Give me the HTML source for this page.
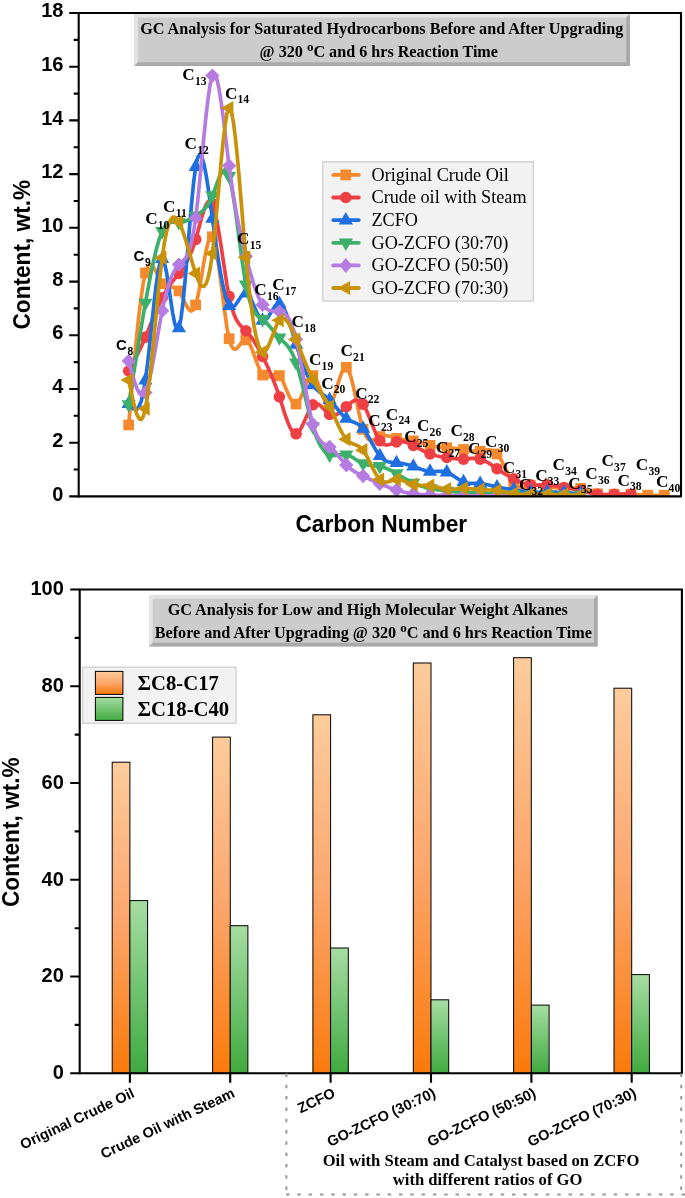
<!DOCTYPE html>
<html lang="en"><head><meta charset="utf-8"><title>GC Analysis</title>
<style>html,body{margin:0;padding:0;background:#fff}svg{display:block;will-change:transform}</style></head>
<body>
<svg width="685" height="1198" viewBox="0 0 685 1198">
<defs>
<clipPath id="cp1"><rect x="78.7" y="13.0" width="602.3" height="483.9"/></clipPath>
<linearGradient id="go" x1="0" y1="0" x2="0" y2="1"><stop offset="0" stop-color="#FDCC9C"/><stop offset="0.5" stop-color="#FCA66C"/><stop offset="1" stop-color="#FA7A0A"/></linearGradient>
<linearGradient id="gg" x1="0" y1="0" x2="0" y2="1"><stop offset="0" stop-color="#A6DDA2"/><stop offset="1" stop-color="#3FAA3F"/></linearGradient>
</defs>
<rect width="685" height="1198" fill="#fff"/>
<g clip-path="url(#cp1)">
<path d="M128.7 425.0L130.8 400.5L132.9 376.5L135.0 353.6L137.1 332.2L139.2 312.9L141.3 296.3L143.3 282.8L145.4 273.0L147.5 267.1L149.6 264.7L151.7 265.1L153.8 267.6L155.9 271.4L158.0 275.8L160.1 280.1L162.2 283.7L164.3 285.9L166.4 287.1L168.5 287.4L170.5 287.4L172.6 287.4L174.7 287.7L176.8 288.8L178.9 291.0L181.0 294.5L183.1 298.8L185.2 303.3L187.3 307.2L189.4 310.1L191.5 311.1L193.6 309.6L195.7 304.9L197.8 296.8L199.8 286.1L201.9 274.0L204.0 261.8L206.1 250.8L208.2 242.1L210.3 237.0L212.4 236.7L214.5 242.1L216.6 252.2L218.7 265.7L220.8 281.4L222.9 297.8L225.0 313.8L227.0 327.8L229.1 338.8L231.2 345.6L233.3 348.8L235.4 349.2L237.5 347.7L239.6 345.2L241.7 342.4L243.8 340.4L245.9 339.8L248.0 341.4L250.1 344.9L252.2 349.7L254.2 355.3L256.3 361.1L258.4 366.7L260.5 371.5L262.6 375.0L264.7 376.8L266.8 377.3L268.9 376.7L271.0 375.7L273.1 374.6L275.2 374.0L277.3 374.1L279.4 375.5L281.5 378.6L283.5 382.8L285.6 387.7L287.7 392.7L289.8 397.4L291.9 401.2L294.0 403.6L296.1 404.0L298.2 402.2L300.3 398.6L302.4 393.8L304.5 388.5L306.6 383.4L308.7 379.1L310.7 376.3L312.8 375.5L314.9 377.4L317.0 381.2L319.1 386.4L321.2 392.0L323.3 397.5L325.4 402.0L327.5 404.8L329.6 405.1L331.7 402.5L333.8 397.5L335.9 391.1L337.9 384.1L340.0 377.3L342.1 371.7L344.2 368.0L346.3 367.2L348.4 369.9L350.5 375.5L352.6 383.4L354.7 392.7L356.8 402.7L358.9 412.6L361.0 421.7L363.1 429.3L365.2 434.6L367.2 438.0L369.3 439.8L371.4 440.3L373.5 439.8L375.6 438.8L377.7 437.6L379.8 436.5L381.9 435.8L384.0 435.6L386.1 435.7L388.2 436.0L390.3 436.5L392.4 437.2L394.4 437.8L396.5 438.4L398.6 438.9L400.7 439.2L402.8 439.5L404.9 439.7L407.0 440.0L409.1 440.2L411.2 440.5L413.3 440.8L415.4 441.2L417.5 441.8L419.6 442.4L421.6 443.0L423.7 443.6L425.8 444.2L427.9 444.8L430.0 445.4L432.1 445.9L434.2 446.3L436.3 446.6L438.4 446.9L440.5 447.2L442.6 447.4L444.7 447.6L446.8 447.8L448.9 447.9L450.9 448.1L453.0 448.2L455.1 448.4L457.2 448.6L459.3 448.8L461.4 449.1L463.5 449.4L465.6 449.8L467.7 450.2L469.8 450.6L471.9 451.0L474.0 451.2L476.1 451.4L478.1 451.4L480.2 451.3L482.3 450.9L484.4 450.5L486.5 450.1L488.6 449.9L490.7 450.1L492.8 450.7L494.9 452.0L497.0 454.0L499.1 456.8L501.2 460.3L503.3 464.2L505.3 468.4L507.4 472.6L509.5 476.6L511.6 480.1L513.7 483.0L515.8 485.0L517.9 486.3L520.0 487.0L522.1 487.2L524.2 487.0L526.3 486.6L528.4 486.1L530.5 485.7L532.6 485.3L534.6 485.2L536.7 485.1L538.8 485.2L540.9 485.3L543.0 485.6L545.1 485.9L547.2 486.2L549.3 486.6L551.4 486.9L553.5 487.3L555.6 487.6L557.7 487.9L559.8 488.1L561.8 488.3L563.9 488.3L566.0 488.3L568.1 488.2L570.2 488.1L572.3 488.0L574.4 487.9L576.5 487.9L578.6 488.1L580.7 488.3L582.8 488.8L584.9 489.4L587.0 490.1L589.0 490.9L591.1 491.7L593.2 492.5L595.3 493.2L597.4 493.7L599.5 494.1L601.6 494.4L603.7 494.5L605.8 494.6L607.9 494.5L610.0 494.5L612.1 494.4L614.2 494.3L616.3 494.2L618.3 494.1L620.4 494.1L622.5 494.1L624.6 494.1L626.7 494.1L628.8 494.2L630.9 494.3L633.0 494.4L635.1 494.5L637.2 494.6L639.3 494.7L641.4 494.9L643.5 495.0L645.5 495.1L647.6 495.2L649.7 495.3L651.8 495.3L653.9 495.3L656.0 495.3L658.1 495.3L660.2 495.3L662.3 495.2L664.4 495.2" fill="none" stroke="#F5892D" stroke-width="3.7" stroke-linejoin="round" stroke-linecap="round"/>
<rect x="123.3" y="419.6" width="10.7" height="10.7" fill="#F5892D"/>
<rect x="140.1" y="267.6" width="10.7" height="10.7" fill="#F5892D"/>
<rect x="156.8" y="278.4" width="10.7" height="10.7" fill="#F5892D"/>
<rect x="173.6" y="285.6" width="10.7" height="10.7" fill="#F5892D"/>
<rect x="190.3" y="299.6" width="10.7" height="10.7" fill="#F5892D"/>
<rect x="207.0" y="231.4" width="10.7" height="10.7" fill="#F5892D"/>
<rect x="223.8" y="333.4" width="10.7" height="10.7" fill="#F5892D"/>
<rect x="240.5" y="334.5" width="10.7" height="10.7" fill="#F5892D"/>
<rect x="257.3" y="369.7" width="10.7" height="10.7" fill="#F5892D"/>
<rect x="274.0" y="370.2" width="10.7" height="10.7" fill="#F5892D"/>
<rect x="290.7" y="398.7" width="10.7" height="10.7" fill="#F5892D"/>
<rect x="307.5" y="370.2" width="10.7" height="10.7" fill="#F5892D"/>
<rect x="324.2" y="399.7" width="10.7" height="10.7" fill="#F5892D"/>
<rect x="341.0" y="361.9" width="10.7" height="10.7" fill="#F5892D"/>
<rect x="357.7" y="423.9" width="10.7" height="10.7" fill="#F5892D"/>
<rect x="374.4" y="431.2" width="10.7" height="10.7" fill="#F5892D"/>
<rect x="391.2" y="433.0" width="10.7" height="10.7" fill="#F5892D"/>
<rect x="407.9" y="435.5" width="10.7" height="10.7" fill="#F5892D"/>
<rect x="424.7" y="440.0" width="10.7" height="10.7" fill="#F5892D"/>
<rect x="441.4" y="442.4" width="10.7" height="10.7" fill="#F5892D"/>
<rect x="458.1" y="444.1" width="10.7" height="10.7" fill="#F5892D"/>
<rect x="474.9" y="445.9" width="10.7" height="10.7" fill="#F5892D"/>
<rect x="491.6" y="448.6" width="10.7" height="10.7" fill="#F5892D"/>
<rect x="508.4" y="477.6" width="10.7" height="10.7" fill="#F5892D"/>
<rect x="525.1" y="480.3" width="10.7" height="10.7" fill="#F5892D"/>
<rect x="541.8" y="480.8" width="10.7" height="10.7" fill="#F5892D"/>
<rect x="558.6" y="483.0" width="10.7" height="10.7" fill="#F5892D"/>
<rect x="575.3" y="483.0" width="10.7" height="10.7" fill="#F5892D"/>
<rect x="592.1" y="488.4" width="10.7" height="10.7" fill="#F5892D"/>
<rect x="608.8" y="488.9" width="10.7" height="10.7" fill="#F5892D"/>
<rect x="625.5" y="488.9" width="10.7" height="10.7" fill="#F5892D"/>
<rect x="642.3" y="489.8" width="10.7" height="10.7" fill="#F5892D"/>
<rect x="659.0" y="489.8" width="10.7" height="10.7" fill="#F5892D"/>
<path d="M128.7 371.0L130.8 367.1L132.9 363.1L135.0 359.1L137.1 355.0L139.2 350.8L141.3 346.5L143.3 341.9L145.4 337.1L147.5 332.2L149.6 327.0L151.7 321.8L153.8 316.6L155.9 311.5L158.0 306.6L160.1 302.0L162.2 297.7L164.3 293.8L166.4 290.3L168.5 287.1L170.5 284.2L172.6 281.4L174.7 278.8L176.8 276.2L178.9 273.5L181.0 270.7L183.1 267.8L185.2 264.5L187.3 260.8L189.4 256.5L191.5 251.6L193.6 245.9L195.7 239.4L197.8 232.0L199.8 224.2L201.9 216.7L204.0 210.0L206.1 204.8L208.2 201.5L210.3 201.0L212.4 203.7L214.5 210.0L216.6 219.4L218.7 231.1L220.8 244.3L222.9 258.2L225.0 272.0L227.0 285.0L229.1 296.3L231.2 305.4L233.3 312.5L235.4 317.8L237.5 321.7L239.6 324.6L241.7 326.9L243.8 328.8L245.9 330.7L248.0 332.9L250.1 335.5L252.2 338.4L254.2 341.5L256.3 345.0L258.4 348.6L260.5 352.5L262.6 356.5L264.7 360.7L266.8 365.0L268.9 369.6L271.0 374.4L273.1 379.5L275.2 384.9L277.3 390.7L279.4 396.8L281.5 403.2L283.5 409.8L285.6 416.1L287.7 421.9L289.8 426.9L291.9 430.8L294.0 433.2L296.1 433.8L298.2 432.6L300.3 429.7L302.4 425.7L304.5 421.0L306.6 416.2L308.7 411.5L310.7 407.6L312.8 404.8L314.9 403.6L317.0 403.6L319.1 404.7L321.2 406.4L323.3 408.6L325.4 410.9L327.5 412.9L329.6 414.5L331.7 415.3L333.8 415.4L335.9 414.8L337.9 413.8L340.0 412.3L342.1 410.6L344.2 408.7L346.3 406.7L348.4 404.7L350.5 403.0L352.6 401.5L354.7 400.5L356.8 400.2L358.9 400.6L361.0 401.9L363.1 404.3L365.2 407.8L367.2 412.2L369.3 417.3L371.4 422.6L373.5 427.9L375.6 432.9L377.7 437.3L379.8 440.8L381.9 443.2L384.0 444.5L386.1 445.0L388.2 444.8L390.3 444.3L392.4 443.5L394.4 442.6L396.5 441.9L398.6 441.5L400.7 441.4L402.8 441.6L404.9 442.0L407.0 442.6L409.1 443.4L411.2 444.3L413.3 445.4L415.4 446.5L417.5 447.6L419.6 448.8L421.6 450.0L423.7 451.1L425.8 452.1L427.9 453.1L430.0 454.0L432.1 454.7L434.2 455.3L436.3 455.8L438.4 456.2L440.5 456.6L442.6 456.9L444.7 457.2L446.8 457.5L448.9 457.8L450.9 458.1L453.0 458.4L455.1 458.6L457.2 458.8L459.3 459.0L461.4 459.1L463.5 459.1L465.6 459.0L467.7 458.8L469.8 458.6L471.9 458.4L474.0 458.4L476.1 458.4L478.1 458.6L480.2 459.1L482.3 459.8L484.4 460.7L486.5 461.8L488.6 463.0L490.7 464.4L492.8 465.8L494.9 467.3L497.0 468.7L499.1 470.2L501.2 471.6L503.3 472.9L505.3 474.2L507.4 475.5L509.5 476.7L511.6 477.8L513.7 478.9L515.8 480.0L517.9 481.0L520.0 481.9L522.1 482.7L524.2 483.4L526.3 484.0L528.4 484.5L530.5 484.9L532.6 485.0L534.6 485.1L536.7 485.1L538.8 485.0L540.9 484.9L543.0 484.8L545.1 484.8L547.2 484.9L549.3 485.0L551.4 485.2L553.5 485.5L555.6 485.9L557.7 486.3L559.8 486.7L561.8 487.1L563.9 487.5L566.0 487.9L568.1 488.3L570.2 488.6L572.3 488.9L574.4 489.3L576.5 489.6L578.6 490.0L580.7 490.5L582.8 491.0L584.9 491.5L587.0 492.1L589.0 492.6L591.1 493.1L593.2 493.6L595.3 493.9L597.4 494.3L599.5 494.5L601.6 494.6L603.7 494.6L605.8 494.6L607.9 494.5L610.0 494.4L612.1 494.3L614.2 494.3L616.3 494.2L618.3 494.2L620.4 494.1L622.5 494.1L624.6 494.2L626.7 494.2L628.8 494.2L630.9 494.3" fill="none" stroke="#EE4044" stroke-width="3.7" stroke-linejoin="round" stroke-linecap="round"/>
<circle cx="128.7" cy="371.0" r="5.8" fill="#EE4044"/>
<circle cx="145.4" cy="337.1" r="5.8" fill="#EE4044"/>
<circle cx="162.2" cy="297.7" r="5.8" fill="#EE4044"/>
<circle cx="178.9" cy="273.5" r="5.8" fill="#EE4044"/>
<circle cx="195.7" cy="239.4" r="5.8" fill="#EE4044"/>
<circle cx="212.4" cy="203.7" r="5.8" fill="#EE4044"/>
<circle cx="229.1" cy="296.3" r="5.8" fill="#EE4044"/>
<circle cx="245.9" cy="330.7" r="5.8" fill="#EE4044"/>
<circle cx="262.6" cy="356.5" r="5.8" fill="#EE4044"/>
<circle cx="279.4" cy="396.8" r="5.8" fill="#EE4044"/>
<circle cx="296.1" cy="433.8" r="5.8" fill="#EE4044"/>
<circle cx="312.8" cy="404.8" r="5.8" fill="#EE4044"/>
<circle cx="329.6" cy="414.5" r="5.8" fill="#EE4044"/>
<circle cx="346.3" cy="406.7" r="5.8" fill="#EE4044"/>
<circle cx="363.1" cy="404.3" r="5.8" fill="#EE4044"/>
<circle cx="379.8" cy="440.8" r="5.8" fill="#EE4044"/>
<circle cx="396.5" cy="441.9" r="5.8" fill="#EE4044"/>
<circle cx="413.3" cy="445.4" r="5.8" fill="#EE4044"/>
<circle cx="430.0" cy="454.0" r="5.8" fill="#EE4044"/>
<circle cx="446.8" cy="457.5" r="5.8" fill="#EE4044"/>
<circle cx="463.5" cy="459.1" r="5.8" fill="#EE4044"/>
<circle cx="480.2" cy="459.1" r="5.8" fill="#EE4044"/>
<circle cx="497.0" cy="468.7" r="5.8" fill="#EE4044"/>
<circle cx="513.7" cy="478.9" r="5.8" fill="#EE4044"/>
<circle cx="530.5" cy="484.9" r="5.8" fill="#EE4044"/>
<circle cx="547.2" cy="484.9" r="5.8" fill="#EE4044"/>
<circle cx="563.9" cy="487.5" r="5.8" fill="#EE4044"/>
<circle cx="580.7" cy="490.5" r="5.8" fill="#EE4044"/>
<circle cx="597.4" cy="494.3" r="5.8" fill="#EE4044"/>
<circle cx="614.2" cy="494.3" r="5.8" fill="#EE4044"/>
<circle cx="630.9" cy="494.3" r="5.8" fill="#EE4044"/>
<path d="M128.7 403.7L130.8 406.4L132.9 408.5L135.0 409.5L137.1 408.9L139.2 406.2L141.3 400.9L143.3 392.4L145.4 380.1L147.5 364.0L149.6 345.1L151.7 324.9L153.8 305.1L155.9 287.0L158.0 272.3L160.1 262.3L162.2 258.7L164.3 262.3L166.4 271.7L168.5 284.5L170.5 298.9L172.6 312.5L174.7 323.3L176.8 329.2L178.9 328.0L181.0 318.3L183.1 301.5L185.2 279.5L187.3 254.6L189.4 228.8L191.5 204.2L193.6 182.7L195.7 166.6L197.8 157.4L199.8 154.5L201.9 157.2L204.0 164.3L206.1 174.9L208.2 188.1L210.3 203.0L212.4 218.4L214.5 233.7L216.6 248.4L218.7 262.1L220.8 274.5L222.9 285.5L225.0 294.5L227.0 301.4L229.1 305.7L231.2 307.4L233.3 307.0L235.4 305.0L237.5 302.0L239.6 298.7L241.7 295.7L243.8 293.6L245.9 293.1L248.0 294.5L250.1 297.6L252.2 301.7L254.2 306.4L256.3 311.2L258.4 315.5L260.5 318.8L262.6 320.5L264.7 320.3L266.8 318.6L268.9 315.8L271.0 312.5L273.1 309.1L275.2 306.1L277.3 304.1L279.4 303.6L281.5 304.9L283.5 307.8L285.6 312.1L287.7 317.5L289.8 323.8L291.9 330.5L294.0 337.5L296.1 344.4L298.2 351.0L300.3 357.3L302.4 363.1L304.5 368.5L306.6 373.4L308.7 377.8L310.7 381.7L312.8 384.9L314.9 387.7L317.0 389.9L319.1 391.7L321.2 393.3L323.3 394.8L325.4 396.3L327.5 397.9L329.6 399.7L331.7 401.9L333.8 404.3L335.9 406.9L337.9 409.5L340.0 412.1L342.1 414.6L344.2 416.7L346.3 418.5L348.4 419.9L350.5 420.9L352.6 421.8L354.7 422.6L356.8 423.5L358.9 424.7L361.0 426.3L363.1 428.5L365.2 431.2L367.2 434.5L369.3 438.2L371.4 442.0L373.5 445.9L375.6 449.6L377.7 453.0L379.8 455.8L381.9 458.1L384.0 459.8L386.1 461.0L388.2 461.7L390.3 462.2L392.4 462.5L394.4 462.7L396.5 462.8L398.6 463.0L400.7 463.3L402.8 463.6L404.9 464.0L407.0 464.5L409.1 465.0L411.2 465.6L413.3 466.3L415.4 467.1L417.5 467.9L419.6 468.6L421.6 469.4L423.7 470.1L425.8 470.7L427.9 471.1L430.0 471.4L432.1 471.5L434.2 471.5L436.3 471.4L438.4 471.3L440.5 471.3L442.6 471.4L444.7 471.7L446.8 472.2L448.9 473.1L450.9 474.2L453.0 475.5L455.1 477.0L457.2 478.4L459.3 479.7L461.4 480.9L463.5 481.9L465.6 482.6L467.7 483.0L469.8 483.3L471.9 483.4L474.0 483.4L476.1 483.4L478.1 483.4L480.2 483.5L482.3 483.7L484.4 484.1L486.5 484.5L488.6 485.0L490.7 485.5L492.8 486.0L494.9 486.5L497.0 487.0L499.1 487.4L501.2 487.8L503.3 488.2L505.3 488.5L507.4 488.8L509.5 489.1L511.6 489.4L513.7 489.7L515.8 490.0L517.9 490.4L520.0 490.7L522.1 491.1L524.2 491.4L526.3 491.7L528.4 491.9L530.5 492.1L532.6 492.2L534.6 492.3L536.7 492.3L538.8 492.3L540.9 492.2L543.0 492.2L545.1 492.1L547.2 492.1L549.3 492.1L551.4 492.1L553.5 492.2L555.6 492.2L557.7 492.3L559.8 492.4L561.8 492.5L563.9 492.6L566.0 492.8L568.1 492.9L570.2 493.0L572.3 493.2L574.4 493.3L576.5 493.4L578.6 493.6L580.7 493.7" fill="none" stroke="#1E6FE0" stroke-width="3.7" stroke-linejoin="round" stroke-linecap="round"/>
<path d="M128.7 395.6L135.8 408.0L121.6 408.0Z" fill="#1E6FE0"/>
<path d="M145.4 372.0L152.5 384.4L138.3 384.4Z" fill="#1E6FE0"/>
<path d="M162.2 250.6L169.3 263.0L155.1 263.0Z" fill="#1E6FE0"/>
<path d="M178.9 319.9L186.0 332.3L171.8 332.3Z" fill="#1E6FE0"/>
<path d="M195.7 158.5L202.8 170.9L188.6 170.9Z" fill="#1E6FE0"/>
<path d="M212.4 210.3L219.5 222.7L205.3 222.7Z" fill="#1E6FE0"/>
<path d="M229.1 297.6L236.2 310.0L222.0 310.0Z" fill="#1E6FE0"/>
<path d="M245.9 285.0L253.0 297.4L238.8 297.4Z" fill="#1E6FE0"/>
<path d="M262.6 312.4L269.7 324.8L255.5 324.8Z" fill="#1E6FE0"/>
<path d="M279.4 295.5L286.5 307.9L272.3 307.9Z" fill="#1E6FE0"/>
<path d="M296.1 336.3L303.2 348.7L289.0 348.7Z" fill="#1E6FE0"/>
<path d="M312.8 376.8L319.9 389.2L305.7 389.2Z" fill="#1E6FE0"/>
<path d="M329.6 391.6L336.7 404.0L322.5 404.0Z" fill="#1E6FE0"/>
<path d="M346.3 410.4L353.4 422.8L339.2 422.8Z" fill="#1E6FE0"/>
<path d="M363.1 420.4L370.2 432.8L356.0 432.8Z" fill="#1E6FE0"/>
<path d="M379.8 447.7L386.9 460.1L372.7 460.1Z" fill="#1E6FE0"/>
<path d="M396.5 454.7L403.6 467.1L389.4 467.1Z" fill="#1E6FE0"/>
<path d="M413.3 458.2L420.4 470.6L406.2 470.6Z" fill="#1E6FE0"/>
<path d="M430.0 463.3L437.1 475.7L422.9 475.7Z" fill="#1E6FE0"/>
<path d="M446.8 464.1L453.9 476.5L439.7 476.5Z" fill="#1E6FE0"/>
<path d="M463.5 473.8L470.6 486.2L456.4 486.2Z" fill="#1E6FE0"/>
<path d="M480.2 475.4L487.3 487.8L473.1 487.8Z" fill="#1E6FE0"/>
<path d="M497.0 478.9L504.1 491.3L489.9 491.3Z" fill="#1E6FE0"/>
<path d="M513.7 481.6L520.8 494.0L506.6 494.0Z" fill="#1E6FE0"/>
<path d="M530.5 484.0L537.6 496.4L523.4 496.4Z" fill="#1E6FE0"/>
<path d="M547.2 484.0L554.3 496.4L540.1 496.4Z" fill="#1E6FE0"/>
<path d="M563.9 484.5L571.0 496.9L556.8 496.9Z" fill="#1E6FE0"/>
<path d="M580.7 485.6L587.8 498.0L573.6 498.0Z" fill="#1E6FE0"/>
<path d="M128.7 404.6L130.8 391.4L132.9 378.3L135.0 365.3L137.1 352.5L139.2 339.8L141.3 327.3L143.3 315.0L145.4 303.0L147.5 291.4L149.6 280.3L151.7 269.8L153.8 260.0L155.9 251.1L158.0 243.3L160.1 236.6L162.2 231.3L164.3 227.4L166.4 224.8L168.5 223.1L170.5 222.3L172.6 222.0L174.7 222.1L176.8 222.3L178.9 222.5L181.0 222.3L183.1 221.9L185.2 221.2L187.3 220.4L189.4 219.3L191.5 218.2L193.6 217.0L195.7 215.8L197.8 214.5L199.8 213.1L201.9 211.5L204.0 209.5L206.1 207.1L208.2 204.0L210.3 200.2L212.4 195.6L214.5 190.1L216.6 184.3L218.7 178.8L220.8 174.1L222.9 170.9L225.0 169.7L227.0 171.3L229.1 176.3L231.2 184.9L233.3 196.6L235.4 210.6L237.5 226.0L239.6 242.0L241.7 257.6L243.8 272.2L245.9 284.8L248.0 294.8L250.1 302.3L252.2 307.9L254.2 311.8L256.3 314.6L258.4 316.5L260.5 317.9L262.6 319.4L264.7 321.2L266.8 323.3L268.9 325.6L271.0 328.0L273.1 330.5L275.2 333.0L277.3 335.4L279.4 337.7L281.5 339.7L283.5 341.7L285.6 343.8L287.7 346.2L289.8 349.1L291.9 352.7L294.0 357.2L296.1 362.7L298.2 369.3L300.3 376.9L302.4 385.1L304.5 393.8L306.6 402.5L308.7 411.1L310.7 419.2L312.8 426.6L314.9 433.0L317.0 438.5L319.1 443.0L321.2 446.8L323.3 449.8L325.4 452.0L327.5 453.7L329.6 454.8L331.7 455.4L333.8 455.5L335.9 455.4L337.9 455.2L340.0 454.9L342.1 454.6L344.2 454.6L346.3 454.8L348.4 455.4L350.5 456.3L352.6 457.4L354.7 458.7L356.8 460.1L358.9 461.4L361.0 462.6L363.1 463.6L365.2 464.4L367.2 464.9L369.3 465.2L371.4 465.5L373.5 465.6L375.6 465.8L377.7 466.0L379.8 466.3L381.9 466.8L384.0 467.5L386.1 468.2L388.2 469.1L390.3 470.1L392.4 471.2L394.4 472.4L396.5 473.6L398.6 474.8L400.7 476.0L402.8 477.3L404.9 478.5L407.0 479.7L409.1 480.9L411.2 482.0L413.3 483.0L415.4 483.9L417.5 484.7L419.6 485.5L421.6 486.2L423.7 486.8L425.8 487.4L427.9 487.9L430.0 488.3L432.1 488.8L434.2 489.2L436.3 489.6L438.4 489.9L440.5 490.2L442.6 490.5L444.7 490.8L446.8 491.0L448.9 491.3L450.9 491.5L453.0 491.6L455.1 491.8L457.2 492.0L459.3 492.1L461.4 492.2L463.5 492.4L465.6 492.5L467.7 492.6L469.8 492.7L471.9 492.8L474.0 492.9L476.1 493.0L478.1 493.1L480.2 493.2L482.3 493.3L484.4 493.3L486.5 493.4L488.6 493.5L490.7 493.5L492.8 493.6L494.9 493.7L497.0 493.7L499.1 493.8L501.2 493.8L503.3 493.9L505.3 494.0L507.4 494.0L509.5 494.1L511.6 494.2L513.7 494.3L515.8 494.3L517.9 494.4L520.0 494.5L522.1 494.5L524.2 494.6L526.3 494.7L528.4 494.7L530.5 494.8L532.6 494.8L534.6 494.9L536.7 494.9L538.8 495.0L540.9 495.0L543.0 495.0L545.1 495.0L547.2 495.1L549.3 495.1L551.4 495.1L553.5 495.1L555.6 495.1L557.7 495.1L559.8 495.1L561.8 495.1L563.9 495.1L566.0 495.1L568.1 495.1L570.2 495.1L572.3 495.1L574.4 495.1L576.5 495.1L578.6 495.1L580.7 495.1" fill="none" stroke="#3CB06A" stroke-width="3.7" stroke-linejoin="round" stroke-linecap="round"/>
<path d="M128.7 412.7L135.8 400.3L121.6 400.3Z" fill="#3CB06A"/>
<path d="M145.4 311.1L152.5 298.7L138.3 298.7Z" fill="#3CB06A"/>
<path d="M162.2 239.4L169.3 227.0L155.1 227.0Z" fill="#3CB06A"/>
<path d="M178.9 230.6L186.0 218.2L171.8 218.2Z" fill="#3CB06A"/>
<path d="M195.7 223.9L202.8 211.5L188.6 211.5Z" fill="#3CB06A"/>
<path d="M212.4 203.7L219.5 191.3L205.3 191.3Z" fill="#3CB06A"/>
<path d="M229.1 184.4L236.2 172.0L222.0 172.0Z" fill="#3CB06A"/>
<path d="M245.9 292.9L253.0 280.5L238.8 280.5Z" fill="#3CB06A"/>
<path d="M262.6 327.5L269.7 315.1L255.5 315.1Z" fill="#3CB06A"/>
<path d="M279.4 345.8L286.5 333.4L272.3 333.4Z" fill="#3CB06A"/>
<path d="M296.1 370.8L303.2 358.4L289.0 358.4Z" fill="#3CB06A"/>
<path d="M312.8 434.7L319.9 422.3L305.7 422.3Z" fill="#3CB06A"/>
<path d="M329.6 462.9L336.7 450.5L322.5 450.5Z" fill="#3CB06A"/>
<path d="M346.3 462.9L353.4 450.5L339.2 450.5Z" fill="#3CB06A"/>
<path d="M363.1 471.7L370.2 459.3L356.0 459.3Z" fill="#3CB06A"/>
<path d="M379.8 474.4L386.9 462.0L372.7 462.0Z" fill="#3CB06A"/>
<path d="M396.5 481.7L403.6 469.3L389.4 469.3Z" fill="#3CB06A"/>
<path d="M413.3 491.1L420.4 478.7L406.2 478.7Z" fill="#3CB06A"/>
<path d="M430.0 496.4L437.1 484.0L422.9 484.0Z" fill="#3CB06A"/>
<path d="M446.8 499.1L453.9 486.7L439.7 486.7Z" fill="#3CB06A"/>
<path d="M463.5 500.5L470.6 488.1L456.4 488.1Z" fill="#3CB06A"/>
<path d="M480.2 501.3L487.3 488.9L473.1 488.9Z" fill="#3CB06A"/>
<path d="M497.0 501.8L504.1 489.4L489.9 489.4Z" fill="#3CB06A"/>
<path d="M513.7 502.4L520.8 490.0L506.6 490.0Z" fill="#3CB06A"/>
<path d="M530.5 502.9L537.6 490.5L523.4 490.5Z" fill="#3CB06A"/>
<path d="M547.2 503.2L554.3 490.8L540.1 490.8Z" fill="#3CB06A"/>
<path d="M563.9 503.2L571.0 490.8L556.8 490.8Z" fill="#3CB06A"/>
<path d="M580.7 503.2L587.8 490.8L573.6 490.8Z" fill="#3CB06A"/>
<path d="M128.7 361.0L130.8 368.9L132.9 376.4L135.0 383.2L137.1 388.8L139.2 392.9L141.3 395.1L143.3 395.1L145.4 392.5L147.5 387.0L149.6 379.0L151.7 369.2L153.8 358.0L155.9 346.0L158.0 333.8L160.1 321.9L162.2 310.8L164.3 301.1L166.4 292.7L168.5 285.5L170.5 279.4L172.6 274.4L174.7 270.3L176.8 267.1L178.9 264.6L181.0 262.8L183.1 260.9L185.2 258.6L187.3 255.1L189.4 249.9L191.5 242.4L193.6 231.9L195.7 217.9L197.8 200.1L199.8 179.6L201.9 157.6L204.0 135.7L206.1 115.2L208.2 97.4L210.3 83.7L212.4 75.6L214.5 73.9L216.6 78.1L218.7 87.0L220.8 99.7L222.9 114.9L225.0 131.7L227.0 149.1L229.1 165.8L231.2 181.1L233.3 195.0L235.4 207.5L237.5 219.0L239.6 229.4L241.7 239.0L243.8 247.9L245.9 256.3L248.0 264.4L250.1 272.0L252.2 279.1L254.2 285.7L256.3 291.6L258.4 296.8L260.5 301.1L262.6 304.7L264.7 307.2L266.8 309.0L268.9 310.2L271.0 310.8L273.1 311.2L275.2 311.3L277.3 311.4L279.4 311.6L281.5 312.2L283.5 313.1L285.6 314.8L287.7 317.3L289.8 320.8L291.9 325.5L294.0 331.6L296.1 339.3L298.2 348.7L300.3 359.3L302.4 370.8L304.5 382.7L306.6 394.4L308.7 405.6L310.7 415.6L312.8 424.2L314.9 430.8L317.0 435.8L319.1 439.3L321.2 441.8L323.3 443.5L325.4 444.7L327.5 445.8L329.6 447.0L331.7 448.6L333.8 450.6L335.9 452.8L337.9 455.3L340.0 457.8L342.1 460.3L344.2 462.7L346.3 465.0L348.4 467.0L350.5 468.7L352.6 470.2L354.7 471.6L356.8 472.8L358.9 473.9L361.0 475.0L363.1 476.0L365.2 477.0L367.2 478.0L369.3 479.0L371.4 480.0L373.5 481.0L375.6 481.9L377.7 482.9L379.8 483.8L381.9 484.7L384.0 485.5L386.1 486.3L388.2 487.1L390.3 487.9L392.4 488.6L394.4 489.3L396.5 490.0L398.6 490.6L400.7 491.1L402.8 491.7L404.9 492.2L407.0 492.6L409.1 493.0L411.2 493.4L413.3 493.7L415.4 494.0L417.5 494.2L419.6 494.4L421.6 494.6L423.7 494.7L425.8 494.9L427.9 495.0L430.0 495.1L432.1 495.1L434.2 495.2L436.3 495.3L438.4 495.4L440.5 495.4L442.6 495.5L444.7 495.5L446.8 495.6L448.9 495.6L450.9 495.7L453.0 495.7L455.1 495.8L457.2 495.8L459.3 495.8L461.4 495.8L463.5 495.9L465.6 495.9L467.7 495.9L469.8 495.9L471.9 495.9L474.0 495.9L476.1 495.9L478.1 495.9L480.2 495.9L482.3 495.9L484.4 495.9L486.5 495.9L488.6 495.9L490.7 495.9L492.8 495.9L494.9 495.9L497.0 495.9L499.1 495.9L501.2 495.9L503.3 495.9L505.3 495.9L507.4 495.9L509.5 495.9L511.6 495.9L513.7 495.9L515.8 495.9L517.9 495.9L520.0 495.9L522.1 495.9L524.2 495.9L526.3 495.9L528.4 495.9L530.5 495.9L532.6 495.9L534.6 495.9L536.7 495.9L538.8 495.9L540.9 495.9L543.0 495.9L545.1 495.9L547.2 495.9L549.3 495.9L551.4 495.9L553.5 495.9L555.6 495.9L557.7 495.9L559.8 495.9L561.8 495.9L563.9 495.9L566.0 495.9L568.1 495.9L570.2 495.9L572.3 495.9L574.4 495.9L576.5 495.9L578.6 495.9L580.7 495.9" fill="none" stroke="#B57BE0" stroke-width="3.7" stroke-linejoin="round" stroke-linecap="round"/>
<path d="M128.7 353.8L135.8 361.0L128.7 368.2L121.6 361.0Z" fill="#B57BE0"/>
<path d="M145.4 385.3L152.5 392.5L145.4 399.7L138.3 392.5Z" fill="#B57BE0"/>
<path d="M162.2 303.6L169.3 310.8L162.2 318.0L155.1 310.8Z" fill="#B57BE0"/>
<path d="M178.9 257.4L186.0 264.6L178.9 271.8L171.8 264.6Z" fill="#B57BE0"/>
<path d="M195.7 210.7L202.8 217.9L195.7 225.1L188.6 217.9Z" fill="#B57BE0"/>
<path d="M212.4 68.4L219.5 75.6L212.4 82.8L205.3 75.6Z" fill="#B57BE0"/>
<path d="M229.1 158.6L236.2 165.8L229.1 173.0L222.0 165.8Z" fill="#B57BE0"/>
<path d="M245.9 249.1L253.0 256.3L245.9 263.5L238.8 256.3Z" fill="#B57BE0"/>
<path d="M262.6 297.5L269.7 304.7L262.6 311.9L255.5 304.7Z" fill="#B57BE0"/>
<path d="M279.4 304.4L286.5 311.6L279.4 318.8L272.3 311.6Z" fill="#B57BE0"/>
<path d="M296.1 332.1L303.2 339.3L296.1 346.5L289.0 339.3Z" fill="#B57BE0"/>
<path d="M312.8 417.0L319.9 424.2L312.8 431.4L305.7 424.2Z" fill="#B57BE0"/>
<path d="M329.6 439.8L336.7 447.0L329.6 454.2L322.5 447.0Z" fill="#B57BE0"/>
<path d="M346.3 457.8L353.4 465.0L346.3 472.2L339.2 465.0Z" fill="#B57BE0"/>
<path d="M363.1 468.8L370.2 476.0L363.1 483.2L356.0 476.0Z" fill="#B57BE0"/>
<path d="M379.8 476.6L386.9 483.8L379.8 491.0L372.7 483.8Z" fill="#B57BE0"/>
<path d="M396.5 482.8L403.6 490.0L396.5 497.2L389.4 490.0Z" fill="#B57BE0"/>
<path d="M413.3 486.5L420.4 493.7L413.3 500.9L406.2 493.7Z" fill="#B57BE0"/>
<path d="M430.0 487.9L437.1 495.1L430.0 502.3L422.9 495.1Z" fill="#B57BE0"/>
<path d="M446.8 488.4L453.9 495.6L446.8 502.8L439.7 495.6Z" fill="#B57BE0"/>
<path d="M463.5 488.7L470.6 495.9L463.5 503.1L456.4 495.9Z" fill="#B57BE0"/>
<path d="M480.2 488.7L487.3 495.9L480.2 503.1L473.1 495.9Z" fill="#B57BE0"/>
<path d="M497.0 488.7L504.1 495.9L497.0 503.1L489.9 495.9Z" fill="#B57BE0"/>
<path d="M513.7 488.7L520.8 495.9L513.7 503.1L506.6 495.9Z" fill="#B57BE0"/>
<path d="M530.5 488.7L537.6 495.9L530.5 503.1L523.4 495.9Z" fill="#B57BE0"/>
<path d="M547.2 488.7L554.3 495.9L547.2 503.1L540.1 495.9Z" fill="#B57BE0"/>
<path d="M563.9 488.7L571.0 495.9L563.9 503.1L556.8 495.9Z" fill="#B57BE0"/>
<path d="M580.7 488.7L587.8 495.9L580.7 503.1L573.6 495.9Z" fill="#B57BE0"/>
<path d="M128.7 380.1L130.8 390.4L132.9 400.0L135.0 408.4L137.1 414.8L139.2 418.7L141.3 419.4L143.3 416.2L145.4 408.6L147.5 396.1L149.6 379.6L151.7 360.2L153.8 339.0L155.9 317.0L158.0 295.4L160.1 275.3L162.2 257.7L164.3 243.5L166.4 232.6L168.5 224.9L170.5 219.9L172.6 217.4L174.7 217.1L176.8 218.7L178.9 221.9L181.0 226.5L183.1 232.1L185.2 238.5L187.3 245.5L189.4 252.7L191.5 260.0L193.6 267.0L195.7 273.5L197.8 279.2L199.8 283.6L201.9 286.1L204.0 286.3L206.1 283.7L208.2 277.7L210.3 267.7L212.4 253.4L214.5 234.4L216.6 212.3L218.7 188.6L220.8 165.1L222.9 143.6L225.0 125.8L227.0 113.4L229.1 108.1L231.2 111.1L233.3 121.5L235.4 137.8L237.5 158.6L239.6 182.4L241.7 207.8L243.8 233.3L245.9 257.4L248.0 279.0L250.1 297.7L252.2 313.7L254.2 326.9L256.3 337.4L258.4 345.1L260.5 350.0L262.6 352.2L264.7 351.7L266.8 349.1L268.9 344.9L271.0 339.7L273.1 334.1L275.2 328.6L277.3 323.8L279.4 320.2L281.5 318.4L283.5 318.2L285.6 319.5L287.7 322.0L289.8 325.4L291.9 329.6L294.0 334.4L296.1 339.6L298.2 344.9L300.3 350.2L302.4 355.6L304.5 360.8L306.6 365.9L308.7 370.8L310.7 375.4L312.8 379.6L314.9 383.4L317.0 386.8L319.1 390.0L321.2 393.1L323.3 396.3L325.4 399.5L327.5 402.9L329.6 406.7L331.7 410.9L333.8 415.4L335.9 420.0L337.9 424.5L340.0 428.9L342.1 432.9L344.2 436.4L346.3 439.2L348.4 441.2L350.5 442.7L352.6 443.7L354.7 444.5L356.8 445.3L358.9 446.4L361.0 448.0L363.1 450.2L365.2 453.3L367.2 456.9L369.3 461.1L371.4 465.3L373.5 469.6L375.6 473.5L377.7 476.9L379.8 479.5L381.9 481.1L384.0 482.0L386.1 482.1L388.2 481.8L390.3 481.2L392.4 480.5L394.4 479.9L396.5 479.5L398.6 479.5L400.7 479.8L402.8 480.5L404.9 481.3L407.0 482.2L409.1 483.1L411.2 483.9L413.3 484.6L415.4 485.0L417.5 485.3L419.6 485.4L421.6 485.5L423.7 485.4L425.8 485.4L427.9 485.5L430.0 485.7L432.1 486.0L434.2 486.4L436.3 486.9L438.4 487.4L440.5 488.0L442.6 488.5L444.7 488.9L446.8 489.1L448.9 489.3L450.9 489.3L453.0 489.2L455.1 489.0L457.2 488.8L459.3 488.6L461.4 488.4L463.5 488.3L465.6 488.4L467.7 488.5L469.8 488.6L471.9 488.8L474.0 489.1L476.1 489.3L478.1 489.5L480.2 489.7L482.3 489.8L484.4 489.9L486.5 489.9L488.6 490.0L490.7 490.0L492.8 490.1L494.9 490.3L497.0 490.5L499.1 490.8L501.2 491.2L503.3 491.6L505.3 492.1L507.4 492.5L509.5 493.0L511.6 493.4L513.7 493.7L515.8 494.0L517.9 494.1L520.0 494.3L522.1 494.3L524.2 494.3L526.3 494.3L528.4 494.3L530.5 494.3L532.6 494.2L534.6 494.2L536.7 494.2L538.8 494.2L540.9 494.2L543.0 494.2L545.1 494.2L547.2 494.3L549.3 494.3L551.4 494.4L553.5 494.4L555.6 494.5L557.7 494.6L559.8 494.7L561.8 494.7L563.9 494.8L566.0 494.8L568.1 494.9L570.2 494.9L572.3 495.0L574.4 495.0L576.5 495.0L578.6 495.0L580.7 495.1" fill="none" stroke="#C8920A" stroke-width="3.7" stroke-linejoin="round" stroke-linecap="round"/>
<path d="M120.6 380.1L133.0 373.0L133.0 387.2Z" fill="#C8920A"/>
<path d="M137.3 408.6L149.7 401.5L149.7 415.7Z" fill="#C8920A"/>
<path d="M154.1 257.7L166.5 250.6L166.5 264.8Z" fill="#C8920A"/>
<path d="M170.8 221.9L183.2 214.8L183.2 229.0Z" fill="#C8920A"/>
<path d="M187.6 273.5L200.0 266.4L200.0 280.6Z" fill="#C8920A"/>
<path d="M204.3 253.4L216.7 246.3L216.7 260.5Z" fill="#C8920A"/>
<path d="M221.0 108.1L233.4 101.0L233.4 115.2Z" fill="#C8920A"/>
<path d="M237.8 257.4L250.2 250.3L250.2 264.5Z" fill="#C8920A"/>
<path d="M254.5 352.2L266.9 345.1L266.9 359.3Z" fill="#C8920A"/>
<path d="M271.3 320.2L283.7 313.1L283.7 327.3Z" fill="#C8920A"/>
<path d="M288.0 339.6L300.4 332.5L300.4 346.7Z" fill="#C8920A"/>
<path d="M304.7 379.6L317.1 372.5L317.1 386.7Z" fill="#C8920A"/>
<path d="M321.5 406.7L333.9 399.6L333.9 413.8Z" fill="#C8920A"/>
<path d="M338.2 439.2L350.6 432.1L350.6 446.3Z" fill="#C8920A"/>
<path d="M355.0 450.2L367.4 443.1L367.4 457.3Z" fill="#C8920A"/>
<path d="M371.7 479.5L384.1 472.4L384.1 486.6Z" fill="#C8920A"/>
<path d="M388.4 479.5L400.8 472.4L400.8 486.6Z" fill="#C8920A"/>
<path d="M405.2 484.6L417.6 477.5L417.6 491.7Z" fill="#C8920A"/>
<path d="M421.9 485.7L434.3 478.6L434.3 492.8Z" fill="#C8920A"/>
<path d="M438.7 489.1L451.1 482.0L451.1 496.2Z" fill="#C8920A"/>
<path d="M455.4 488.3L467.8 481.2L467.8 495.4Z" fill="#C8920A"/>
<path d="M472.1 489.7L484.5 482.6L484.5 496.8Z" fill="#C8920A"/>
<path d="M488.9 490.5L501.3 483.4L501.3 497.6Z" fill="#C8920A"/>
<path d="M505.6 493.7L518.0 486.6L518.0 500.8Z" fill="#C8920A"/>
<path d="M522.4 494.3L534.8 487.2L534.8 501.4Z" fill="#C8920A"/>
<path d="M539.1 494.3L551.5 487.2L551.5 501.4Z" fill="#C8920A"/>
<path d="M555.8 494.8L568.2 487.7L568.2 501.9Z" fill="#C8920A"/>
<path d="M572.6 495.1L585.0 488.0L585.0 502.2Z" fill="#C8920A"/>
</g>
<g stroke="#000" fill="none">
<path d="M69.2 13.0H681.0V496.4" stroke-width="2.1"/>
<path d="M78.7 12.3V497.4" stroke-width="2.1"/>
<path d="M69.2 496.4H681.7" stroke-width="2.1"/>
<path d="M73.7 469.5H78.7M69.2 442.7H78.7M73.7 415.8H78.7M69.2 389.0H78.7M73.7 362.1H78.7M69.2 335.3H78.7M73.7 308.4H78.7M69.2 281.6H78.7M73.7 254.7H78.7M69.2 227.8H78.7M73.7 201.0H78.7M69.2 174.1H78.7M73.7 147.3H78.7M69.2 120.4H78.7M73.7 93.6H78.7M69.2 66.7H78.7M73.7 39.9H78.7" stroke-width="2.1"/>
</g>
<g font-family="Liberation Sans, Arial, sans-serif" font-weight="bold" font-size="20" text-anchor="end">
<text x="63.4" y="500.5">0</text>
<text x="63.4" y="446.8">2</text>
<text x="63.4" y="393.1">4</text>
<text x="63.4" y="339.4">6</text>
<text x="63.4" y="285.7">8</text>
<text x="63.4" y="231.9">10</text>
<text x="63.4" y="178.2">12</text>
<text x="63.4" y="124.5">14</text>
<text x="63.4" y="70.8">16</text>
<text x="63.4" y="17.1">18</text>
</g>
<text transform="translate(29.9 254.7) rotate(-90) scale(1 1.085)" font-family="Liberation Sans, Arial, sans-serif" font-weight="bold" font-size="22.65" text-anchor="middle">Content, wt.%</text>
<text transform="translate(381.3 531.6) scale(1 1.04)" font-family="Liberation Sans, Arial, sans-serif" font-weight="bold" font-size="22.75" text-anchor="middle">Carbon Number</text>
<rect x="134.2" y="14" width="495.7" height="51.900000000000006" fill="#CCCCCC"/><path d="M134.2 14H629.9L626.3 17.6H137.79999999999998V62.300000000000004L134.2 65.9Z" fill="#E4E4E4"/><path d="M629.9 65.9H134.2L137.79999999999998 62.300000000000004H626.3V17.6L629.9 14Z" fill="#A9A9A9"/>
<g font-family="Liberation Serif, Times New Roman, serif" font-weight="bold" font-size="16.15" text-anchor="middle">
<text x="381.7" y="33.6">GC Analysis for Saturated Hydrocarbons Before and After Upgrading</text>
<text x="378.8" y="56.6">@ 320 <tspan font-size="13" dy="-5.5">o</tspan><tspan dy="5.5">C and 6 hrs Reaction Time</tspan></text>
</g>
<rect x="322.8" y="161.8" width="210.5" height="139.3" fill="#F2F2F2" stroke="#D2D2D2" stroke-width="1.4"/>
<path d="M333.2 174.9H358.8" stroke="#F5892D" stroke-width="3.8" stroke-linecap="round"/>
<rect x="340.4" y="169.6" width="10.7" height="10.7" fill="#F5892D"/>
<text x="371.5" y="180.8" font-family="Liberation Serif, Times New Roman, serif" font-size="18.2">Original Crude Oil</text>
<path d="M333.2 197.5H358.8" stroke="#EE4044" stroke-width="3.8" stroke-linecap="round"/>
<circle cx="345.8" cy="197.5" r="5.8" fill="#EE4044"/>
<text x="371.5" y="203.4" font-family="Liberation Serif, Times New Roman, serif" font-size="18.2">Crude oil with Steam</text>
<path d="M333.2 220.1H358.8" stroke="#1E6FE0" stroke-width="3.8" stroke-linecap="round"/>
<path d="M345.8 212.0L352.9 224.4L338.7 224.4Z" fill="#1E6FE0"/>
<text x="371.5" y="226.0" font-family="Liberation Serif, Times New Roman, serif" font-size="18.2">ZCFO</text>
<path d="M333.2 242.8H358.8" stroke="#3CB06A" stroke-width="3.8" stroke-linecap="round"/>
<path d="M345.8 250.9L352.9 238.5L338.7 238.5Z" fill="#3CB06A"/>
<text x="371.5" y="248.7" font-family="Liberation Serif, Times New Roman, serif" font-size="18.2">GO-ZCFO (30:70)</text>
<path d="M333.2 265.4H358.8" stroke="#B57BE0" stroke-width="3.8" stroke-linecap="round"/>
<path d="M345.8 257.9L352.1 265.4L345.8 272.9L339.5 265.4Z" fill="#B57BE0"/>
<text x="371.5" y="271.3" font-family="Liberation Serif, Times New Roman, serif" font-size="18.2">GO-ZCFO (50:50)</text>
<path d="M333.2 288.0H358.8" stroke="#C8920A" stroke-width="3.8" stroke-linecap="round"/>
<path d="M337.7 288.0L350.1 280.9L350.1 295.1Z" fill="#C8920A"/>
<text x="371.5" y="293.9" font-family="Liberation Serif, Times New Roman, serif" font-size="18.2">GO-ZCFO (70:30)</text>
<text x="116.10000000000001" y="349.8" font-family="Liberation Sans, Arial, sans-serif" font-weight="bold" font-size="15"><tspan>C</tspan><tspan font-size="10.3" dy="5.2" dx="0.6">8</tspan></text>
<text x="133.6" y="260.6" font-family="Liberation Sans, Arial, sans-serif" font-weight="bold" font-size="15"><tspan>C</tspan><tspan font-size="10.3" dy="5.2" dx="0.6">9</tspan></text>
<text x="145.20000000000002" y="223.9" font-family="Liberation Serif, Times New Roman, serif" font-weight="bold" font-size="17.2"><tspan>C</tspan><tspan font-size="11.6" dy="4.6" dx="0.2">10</tspan></text>
<text x="163.1" y="212.0" font-family="Liberation Serif, Times New Roman, serif" font-weight="bold" font-size="17.2"><tspan>C</tspan><tspan font-size="11.6" dy="4.6" dx="0.2">11</tspan></text>
<text x="184.6" y="149.1" font-family="Liberation Serif, Times New Roman, serif" font-weight="bold" font-size="17.2"><tspan>C</tspan><tspan font-size="11.6" dy="4.6" dx="0.2">12</tspan></text>
<text x="182.3" y="80.2" font-family="Liberation Serif, Times New Roman, serif" font-weight="bold" font-size="17.2"><tspan>C</tspan><tspan font-size="11.6" dy="4.6" dx="0.2">13</tspan></text>
<text x="224.9" y="98.6" font-family="Liberation Serif, Times New Roman, serif" font-weight="bold" font-size="17.2"><tspan>C</tspan><tspan font-size="11.6" dy="4.6" dx="0.2">14</tspan></text>
<text x="237.1" y="244.0" font-family="Liberation Serif, Times New Roman, serif" font-weight="bold" font-size="17.2"><tspan>C</tspan><tspan font-size="11.6" dy="4.6" dx="0.2">15</tspan></text>
<text x="254.3" y="294.9" font-family="Liberation Serif, Times New Roman, serif" font-weight="bold" font-size="17.2"><tspan>C</tspan><tspan font-size="11.6" dy="4.6" dx="0.2">16</tspan></text>
<text x="272.2" y="290.0" font-family="Liberation Serif, Times New Roman, serif" font-weight="bold" font-size="17.2"><tspan>C</tspan><tspan font-size="11.6" dy="4.6" dx="0.2">17</tspan></text>
<text x="291.5" y="327.3" font-family="Liberation Serif, Times New Roman, serif" font-weight="bold" font-size="17.2"><tspan>C</tspan><tspan font-size="11.6" dy="4.6" dx="0.2">18</tspan></text>
<text x="309.0" y="365.0" font-family="Liberation Serif, Times New Roman, serif" font-weight="bold" font-size="17.2"><tspan>C</tspan><tspan font-size="11.6" dy="4.6" dx="0.2">19</tspan></text>
<text x="321.2" y="388.8" font-family="Liberation Serif, Times New Roman, serif" font-weight="bold" font-size="17.2"><tspan>C</tspan><tspan font-size="11.6" dy="4.6" dx="0.2">20</tspan></text>
<text x="340.5" y="356.0" font-family="Liberation Serif, Times New Roman, serif" font-weight="bold" font-size="17.2"><tspan>C</tspan><tspan font-size="11.6" dy="4.6" dx="0.2">21</tspan></text>
<text x="355.2" y="398.7" font-family="Liberation Serif, Times New Roman, serif" font-weight="bold" font-size="17.2"><tspan>C</tspan><tspan font-size="11.6" dy="4.6" dx="0.2">22</tspan></text>
<text x="368.29999999999995" y="426.0" font-family="Liberation Serif, Times New Roman, serif" font-weight="bold" font-size="17.2"><tspan>C</tspan><tspan font-size="11.6" dy="4.6" dx="0.2">23</tspan></text>
<text x="385.79999999999995" y="419.5" font-family="Liberation Serif, Times New Roman, serif" font-weight="bold" font-size="17.2"><tspan>C</tspan><tspan font-size="11.6" dy="4.6" dx="0.2">24</tspan></text>
<text x="404.2" y="441.9" font-family="Liberation Serif, Times New Roman, serif" font-weight="bold" font-size="17.2"><tspan>C</tspan><tspan font-size="11.6" dy="4.6" dx="0.2">25</tspan></text>
<text x="417.0" y="431.4" font-family="Liberation Serif, Times New Roman, serif" font-weight="bold" font-size="17.2"><tspan>C</tspan><tspan font-size="11.6" dy="4.6" dx="0.2">26</tspan></text>
<text x="435.9" y="452.5" font-family="Liberation Serif, Times New Roman, serif" font-weight="bold" font-size="17.2"><tspan>C</tspan><tspan font-size="11.6" dy="4.6" dx="0.2">27</tspan></text>
<text x="450.4" y="436.0" font-family="Liberation Serif, Times New Roman, serif" font-weight="bold" font-size="17.2"><tspan>C</tspan><tspan font-size="11.6" dy="4.6" dx="0.2">28</tspan></text>
<text x="467.9" y="453.5" font-family="Liberation Serif, Times New Roman, serif" font-weight="bold" font-size="17.2"><tspan>C</tspan><tspan font-size="11.6" dy="4.6" dx="0.2">29</tspan></text>
<text x="485.09999999999997" y="447.0" font-family="Liberation Serif, Times New Roman, serif" font-weight="bold" font-size="17.2"><tspan>C</tspan><tspan font-size="11.6" dy="4.6" dx="0.2">30</tspan></text>
<text x="502.79999999999995" y="473.3" font-family="Liberation Serif, Times New Roman, serif" font-weight="bold" font-size="17.2"><tspan>C</tspan><tspan font-size="11.6" dy="4.6" dx="0.2">31</tspan></text>
<text x="518.9" y="490.2" font-family="Liberation Serif, Times New Roman, serif" font-weight="bold" font-size="17.2"><tspan>C</tspan><tspan font-size="11.6" dy="4.6" dx="0.2">32</tspan></text>
<text x="535.1999999999999" y="480.7" font-family="Liberation Serif, Times New Roman, serif" font-weight="bold" font-size="17.2"><tspan>C</tspan><tspan font-size="11.6" dy="4.6" dx="0.2">33</tspan></text>
<text x="552.6" y="470.3" font-family="Liberation Serif, Times New Roman, serif" font-weight="bold" font-size="17.2"><tspan>C</tspan><tspan font-size="11.6" dy="4.6" dx="0.2">34</tspan></text>
<text x="568.3" y="488.6" font-family="Liberation Serif, Times New Roman, serif" font-weight="bold" font-size="17.2"><tspan>C</tspan><tspan font-size="11.6" dy="4.6" dx="0.2">35</tspan></text>
<text x="585.3" y="479.2" font-family="Liberation Serif, Times New Roman, serif" font-weight="bold" font-size="17.2"><tspan>C</tspan><tspan font-size="11.6" dy="4.6" dx="0.2">36</tspan></text>
<text x="601.5" y="466.2" font-family="Liberation Serif, Times New Roman, serif" font-weight="bold" font-size="17.2"><tspan>C</tspan><tspan font-size="11.6" dy="4.6" dx="0.2">37</tspan></text>
<text x="617.4" y="485.6" font-family="Liberation Serif, Times New Roman, serif" font-weight="bold" font-size="17.2"><tspan>C</tspan><tspan font-size="11.6" dy="4.6" dx="0.2">38</tspan></text>
<text x="635.8" y="470.3" font-family="Liberation Serif, Times New Roman, serif" font-weight="bold" font-size="17.2"><tspan>C</tspan><tspan font-size="11.6" dy="4.6" dx="0.2">39</tspan></text>
<text x="656.0" y="487.3" font-family="Liberation Serif, Times New Roman, serif" font-weight="bold" font-size="17.2"><tspan>C</tspan><tspan font-size="11.6" dy="4.6" dx="0.2">40</tspan></text>
<rect x="112.2" y="762.2" width="17.7" height="311.1" fill="url(#go)" stroke="#000" stroke-width="1"/>
<rect x="129.9" y="900.6" width="17.7" height="172.7" fill="url(#gg)" stroke="#000" stroke-width="1"/>
<rect x="212.6" y="737.1" width="17.7" height="336.2" fill="url(#go)" stroke="#000" stroke-width="1"/>
<rect x="230.2" y="925.7" width="17.7" height="147.6" fill="url(#gg)" stroke="#000" stroke-width="1"/>
<rect x="312.9" y="714.8" width="17.7" height="358.5" fill="url(#go)" stroke="#000" stroke-width="1"/>
<rect x="330.6" y="948.0" width="17.7" height="125.3" fill="url(#gg)" stroke="#000" stroke-width="1"/>
<rect x="413.3" y="663.0" width="17.7" height="410.3" fill="url(#go)" stroke="#000" stroke-width="1"/>
<rect x="431.0" y="999.8" width="17.7" height="73.5" fill="url(#gg)" stroke="#000" stroke-width="1"/>
<rect x="513.6" y="657.7" width="17.7" height="415.6" fill="url(#go)" stroke="#000" stroke-width="1"/>
<rect x="531.4" y="1005.1" width="17.7" height="68.2" fill="url(#gg)" stroke="#000" stroke-width="1"/>
<rect x="614.0" y="688.2" width="17.7" height="385.1" fill="url(#go)" stroke="#000" stroke-width="1"/>
<rect x="631.7" y="974.6" width="17.7" height="98.7" fill="url(#gg)" stroke="#000" stroke-width="1"/>
<g stroke="#000" fill="none">
<path d="M70.2 589.5H681.9V1073.3" stroke-width="2.1"/>
<path d="M79.7 588.8V1074.3" stroke-width="2.1"/>
<path d="M70.2 1073.3H682.6" stroke-width="2.1"/>
<path d="M74.7 1024.9H79.7M70.2 976.5H79.7M74.7 928.2H79.7M70.2 879.8H79.7M74.7 831.4H79.7M70.2 783.0H79.7M74.7 734.6H79.7M70.2 686.3H79.7M74.7 637.9H79.7M129.9 1073.3v9.5M230.2 1073.3v9.5M330.6 1073.3v9.5M431.0 1073.3v9.5M531.4 1073.3v9.5M631.7 1073.3v9.5" stroke-width="2.1"/>
</g>
<g font-family="Liberation Sans, Arial, sans-serif" font-weight="bold" font-size="20" text-anchor="end">
<text x="63.8" y="1079.0">0</text>
<text x="63.8" y="982.2">20</text>
<text x="63.8" y="885.5">40</text>
<text x="63.8" y="788.7">60</text>
<text x="63.8" y="692.0">80</text>
<text x="63.8" y="595.2">100</text>
</g>
<text transform="translate(19.3 832.2) rotate(-90) scale(1 1.085)" font-family="Liberation Sans, Arial, sans-serif" font-weight="bold" font-size="22.65" text-anchor="middle">Content, wt.%</text>
<g font-family="Liberation Sans, Arial, sans-serif" font-weight="bold" font-size="14.55" text-anchor="end">
<text transform="translate(135.5 1096.5) rotate(-25.3)">Original Crude Oil</text>
<text transform="translate(235.8 1096.5) rotate(-25.3)">Crude Oil with Steam</text>
<text transform="translate(336.2 1096.5) rotate(-25.3)">ZCFO</text>
<text transform="translate(436.6 1096.5) rotate(-25.3)">GO-ZCFO (30:70)</text>
<text transform="translate(537.0 1096.5) rotate(-25.3)">GO-ZCFO (50:50)</text>
<text transform="translate(637.3 1096.5) rotate(-25.3)">GO-ZCFO (70:30)</text>
</g>
<rect x="149" y="595.2" width="448.6" height="51.19999999999993" fill="#CCCCCC"/><path d="M149 595.2H597.6L594.0 598.8000000000001H152.6V642.8L149 646.4Z" fill="#E4E4E4"/><path d="M597.6 646.4H149L152.6 642.8H594.0V598.8000000000001L597.6 595.2Z" fill="#A9A9A9"/>
<g font-family="Liberation Serif, Times New Roman, serif" font-weight="bold" font-size="16.2" text-anchor="middle">
<text x="367.8" y="614.9">GC Analysis for Low and High Molecular Weight Alkanes</text>
<text x="373.3" y="637.8">Before and After Upgrading @ 320 <tspan font-size="13" dy="-5.5">o</tspan><tspan dy="5.5">C and 6 hrs Reaction Time</tspan></text>
</g>
<rect x="82.6" y="667.2" width="153.4" height="56" fill="#F2F2F2" stroke="#D2D2D2" stroke-width="1.4"/>
<rect x="95.4" y="671.4" width="27.5" height="23" fill="url(#go)" stroke="#000" stroke-width="1"/>
<rect x="95.4" y="697.4" width="27.5" height="23" fill="url(#gg)" stroke="#000" stroke-width="1"/>
<g font-family="Liberation Serif, Times New Roman, serif" font-weight="bold" font-size="20.7">
<text x="137.5" y="689.5">ΣC8-C17</text>
<text x="137.5" y="715.5">ΣC18-C40</text>
</g>
<path d="M286.4 1073.5V1194.4" fill="none" stroke="#999" stroke-width="2" stroke-dasharray="3.5 7.8"/>
<path d="M286 1194.4H685" fill="none" stroke="#999" stroke-width="2" stroke-dasharray="3.5 7.8"/>
<path d="M681.2 1073.5V1194.4" fill="none" stroke="#999" stroke-width="2" stroke-dasharray="3.5 7.8"/>
<g font-family="Liberation Serif, Times New Roman, serif" font-weight="bold" font-size="16.6" text-anchor="middle">
<text x="481" y="1166.4">Oil with Steam and Catalyst based on ZCFO</text>
<text x="487.6" y="1185.3">with different ratios of GO</text>
</g>
</svg>
</body></html>
